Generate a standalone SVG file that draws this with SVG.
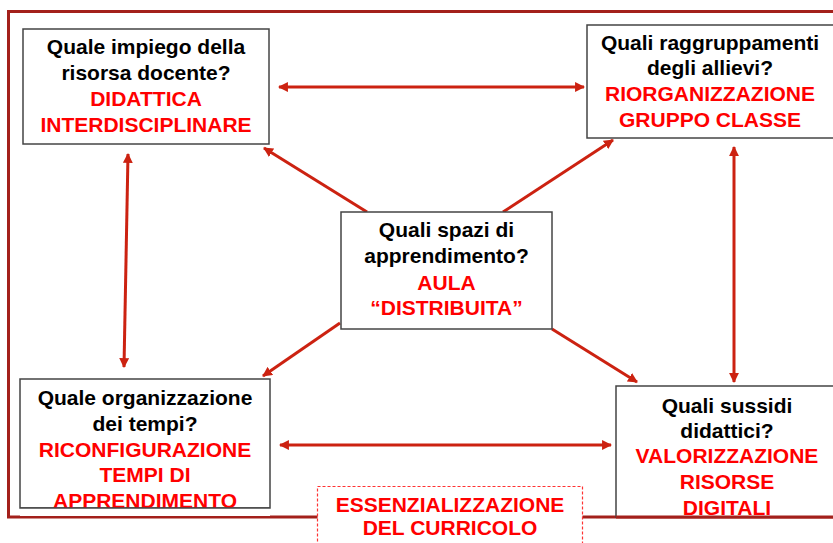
<svg xmlns="http://www.w3.org/2000/svg" width="833" height="543" viewBox="0 0 833 543">
<style>
.frame{fill:none;stroke:#a3201b;stroke-width:3}
.box{fill:#fff;stroke:#444;stroke-width:1.5}
.q{font-family:"Liberation Sans",Arial,sans-serif;font-weight:bold;font-size:21px;fill:#000;text-anchor:middle}
.a{font-family:"Liberation Sans",Arial,sans-serif;font-weight:bold;font-size:21px;fill:#ff0000;text-anchor:middle}
.conn line{stroke:#cc2211;stroke-width:3;marker-start:url(#ah);marker-end:url(#ah)}
.one line{marker-start:none}
.dash{fill:#fff;stroke:#ff3333;stroke-width:1.2;stroke-dasharray:3 2}
</style>
<defs>
<marker id="ah" viewBox="0 0 10 10" refX="9" refY="5" markerWidth="3.3" markerHeight="3.3" orient="auto-start-reverse" markerUnits="strokeWidth">
<path d="M0,0 L10,5 L0,10 z" fill="#cc2211"/>
</marker>
</defs>
<rect width="833" height="543" fill="#fff"/>
<rect class="frame" x="8.5" y="11.5" width="840" height="505.5"/>
<g class="conn">
<line x1="279" y1="87" x2="584" y2="87"/>
<line x1="280" y1="445" x2="611" y2="445"/>
<line x1="128" y1="154" x2="124" y2="367"/>
<line x1="734" y1="147" x2="734" y2="382"/>
<g class="one">
<line x1="367" y1="212" x2="264" y2="148"/>
<line x1="503" y1="212" x2="613" y2="140"/>
<line x1="340" y1="323" x2="263" y2="376"/>
<line x1="552" y1="329" x2="637" y2="382"/>
</g>
</g>
<g id="n1">
<rect class="box" x="23" y="29" width="246" height="115"/>
<text class="q" x="146" y="54">Quale impiego della</text>
<text class="q" x="146" y="80">risorsa docente?</text>
<text class="a" x="146" y="106">DIDATTICA</text>
<text class="a" x="146" y="132">INTERDISCIPLINARE</text>
</g>
<g id="n2">
<rect class="box" x="587" y="25" width="250" height="113"/>
<text class="q" x="710" y="50">Quali raggruppamenti</text>
<text class="q" x="710" y="75">degli allievi?</text>
<text class="a" x="710" y="101">RIORGANIZZAZIONE</text>
<text class="a" x="710" y="127">GRUPPO CLASSE</text>
</g>
<g id="n3">
<rect class="box" x="341" y="212" width="211" height="117"/>
<text class="q" x="446.5" y="237">Quali spazi di</text>
<text class="q" x="446.5" y="263">apprendimento?</text>
<text class="a" x="446.5" y="290">AULA</text>
<text class="a" x="446.5" y="315">“DISTRIBUITA”</text>
</g>
<g id="n4">
<rect class="box" x="20" y="379" width="250" height="129"/>
<text class="q" x="145" y="405">Quale organizzazione</text>
<text class="q" x="145" y="431">dei tempi?</text>
<text class="a" x="145" y="457">RICONFIGURAZIONE</text>
<text class="a" x="145" y="482">TEMPI DI</text>
<text class="a" x="145" y="508">APPRENDIMENTO</text>
<rect x="20" y="508" width="250" height="8" fill="#fff"/>
<line x1="20" y1="508" x2="270" y2="508" stroke="#444" stroke-width="1.5"/>
</g>
<g id="n5">
<rect class="box" x="616" y="386" width="222" height="131"/>
<text class="q" x="727" y="413">Quali sussidi</text>
<text class="q" x="727" y="438">didattici?</text>
<text class="a" x="727" y="463">VALORIZZAZIONE</text>
<text class="a" x="727" y="489">RISORSE</text>
<text class="a" x="727" y="515">DIGITALI</text>
<line x1="616" y1="517" x2="833" y2="517" stroke="#a3201b" stroke-width="3"/>
</g>
<g id="n6">
<rect class="dash" x="317.5" y="486.5" width="265" height="70"/>
<text class="a" x="450" y="512">ESSENZIALIZZAZIONE</text>
<text class="a" x="450" y="535">DEL CURRICOLO</text>
</g>
</svg>
